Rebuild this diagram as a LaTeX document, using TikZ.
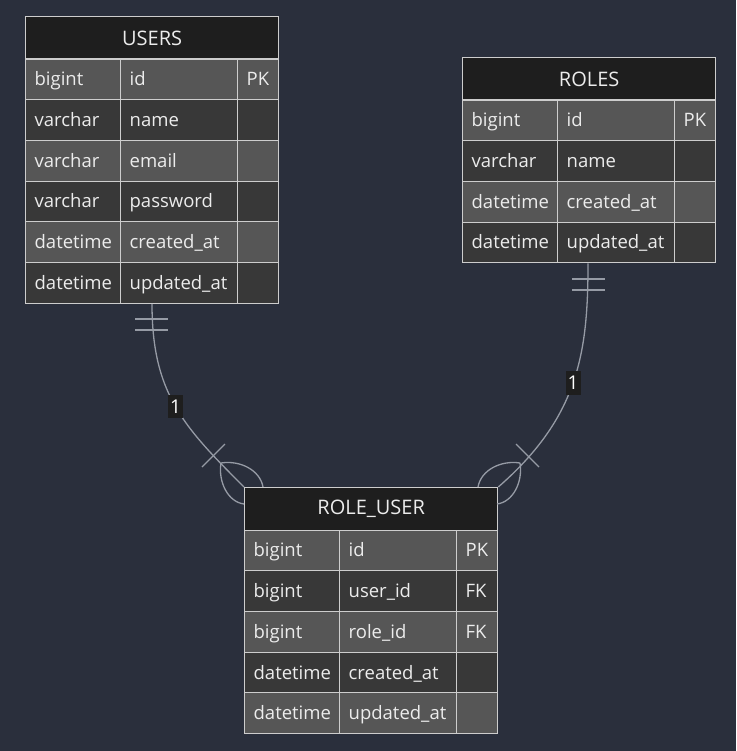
\documentclass[tikz,border=0pt]{standalone}
\usepackage{fontspec}
\setmainfont{Open Sans}
\definecolor{bg}{RGB}{42,47,60}
\definecolor{hdr}{RGB}{30,30,30}
\definecolor{rowa}{RGB}{86,86,86}
\definecolor{rowb}{RGB}{56,56,56}
\definecolor{edge}{RGB}{205,205,205}
\definecolor{txt}{RGB}{236,236,236}
\definecolor{wire}{RGB}{150,155,165}
\tikzstyle{cell} = [rectangle, anchor=north west, draw=edge, line width=1.3pt, minimum height=40.67pt, inner xsep=9pt, inner ysep=0pt, text height=15pt, text depth=2pt, align=left, text=txt, font=\fontsize{18.5}{22}\selectfont]
\tikzstyle{head} = [rectangle, anchor=north west, draw=edge, line width=1.3pt, fill=hdr, minimum width=253pt, minimum height=42.5pt, text=txt, font=\fontsize{20}{24}\selectfont]
\tikzstyle{rel} = [line width=1.3pt, draw=wire]
\tikzstyle{card} = [rectangle, fill=hdr, text=white, inner xsep=2pt, inner ysep=5pt, font=\fontsize{19}{22}\selectfont]

\begin{document}
\begin{tikzpicture}[x=1pt,y=-1pt]
\fill[bg] (0,0) rectangle (736,751);
\useasboundingbox (0,0) rectangle (736,751);

% USERS
\node[head] (u-h) at (25,16) {USERS};
\foreach \t/\n/\k [count=\i] in {bigint/id/PK,varchar/name/{},varchar/email/{},varchar/password/{},datetime/created\_at/{},datetime/updated\_at/{}}{
	\ifodd\i \def\rc{rowa}\else\def\rc{rowb}\fi
	\node[cell,fill=\rc,text width=77pt] (u-t\i) at (25,{58.5+40.67*(\i-1)}) {\t};
	\node[cell,fill=\rc,text width=99pt] (u-n\i) at (120,{58.5+40.67*(\i-1)}) {\n};
	\node[cell,fill=\rc,text width=23pt] (u-k\i) at (237,{58.5+40.67*(\i-1)}) {\k};
}

% ROLES
\node[head] (r-h) at (462,57) {ROLES};
\foreach \t/\n/\k [count=\i] in {bigint/id/PK,varchar/name/{},datetime/created\_at/{},datetime/updated\_at/{}}{
	\ifodd\i \def\rc{rowa}\else\def\rc{rowb}\fi
	\node[cell,fill=\rc,text width=77pt] (r-t\i) at (462,{99.5+40.67*(\i-1)}) {\t};
	\node[cell,fill=\rc,text width=99pt] (r-n\i) at (557,{99.5+40.67*(\i-1)}) {\n};
	\node[cell,fill=\rc,text width=23pt] (r-k\i) at (674,{99.5+40.67*(\i-1)}) {\k};
}

% ROLE_USER
\node[head] (ru-h) at (244,487) {ROLE\_USER};
\foreach \t/\n/\k [count=\i] in {bigint/id/PK,bigint/user\_id/FK,bigint/role\_id/FK,datetime/created\_at/{},datetime/updated\_at/{}}{
	\ifodd\i \def\rc{rowa}\else\def\rc{rowb}\fi
	\node[cell,fill=\rc,text width=77pt] (ru-t\i) at (244,{529.5+40.67*(\i-1)}) {\t};
	\node[cell,fill=\rc,text width=99pt] (ru-n\i) at (339,{529.5+40.67*(\i-1)}) {\n};
	\node[cell,fill=\rc,text width=23pt] (ru-k\i) at (456,{529.5+40.67*(\i-1)}) {\k};
}

% relations
\draw[rel] ([xshift=32pt]u-n6.south west) .. controls +(0,90) and +(-60,-60) .. (ru-h.north west) node[card,pos=0.5] {1};
\draw[rel] (135,319)--(168,319) (135,330)--(168,330);
\draw[rel] (202,467)--(225,444);
\draw[rel] (221,463) .. controls (240,460) and (260,470) .. (263,487)
	(221,463) .. controls (218,482) and (228,502) .. (244,504);

\draw[rel] ([xshift=31pt]r-n4.south west) .. controls +(0,90) and +(80,-70) .. (ru-h.north east) node[card,pos=0.5] {1};
\draw[rel] (572,279)--(605,279) (572,290)--(605,290);
\draw[rel] (539,467)--(516,444);
\draw[rel] (520,463) .. controls (501,460) and (481,470) .. (478,487)
	(520,463) .. controls (523,482) and (513,502) .. (497,504);
\end{tikzpicture}
\end{document}
